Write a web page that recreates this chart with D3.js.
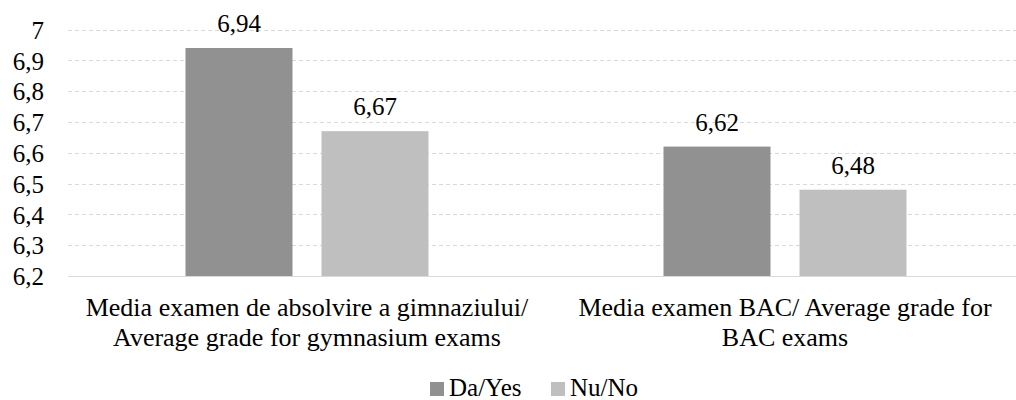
<!DOCTYPE html>
<html>
<head>
<meta charset="utf-8">
<script src="https://cdn.jsdelivr.net/npm/d3@7"></script>
<style>
  body { margin: 0; background: #fff; }
  .chart text { font-family: 'Liberation Serif', 'Times New Roman', serif; fill: #000; }
</style>
</head>
<body>
<div class="chart"></div>
<script>
var width = 1016, height = 400;

// data
var categories = [
  ["Media examen de absolvire a gimnaziului/", "Average grade for gymnasium exams"],
  ["Media examen BAC/ Average grade for", "BAC exams"]
];
var seriesNames = ["Da/Yes", "Nu/No"];
var seriesColors = ["#919191", "#bfbfbf"];
var daYes = [6.94, 6.62];
var nuNo = [6.67, 6.48];
var yTicks = [6.2, 6.3, 6.4, 6.5, 6.6, 6.7, 6.8, 6.9, 7];

var series = [daYes, nuNo];
var margin = { left: 68, right: -8, top: 29.5, bottom: 124 };
var fs = 25;

var svg = d3.select('.chart')
  .append('svg')
  .attr('width', width)
  .attr('height', height);

var x = d3.scaleBand()
  .domain(d3.range(categories.length))
  .range([margin.left, width - margin.right]);

var y = d3.scaleLinear()
  .domain([6.2, 7])
  .range([height - margin.bottom, margin.top]);

var barW = 107, gap = 29;
function barX(ci, si) {
  var c = x(ci) + x.bandwidth() / 2;
  var total = barW * 2 + gap;
  return c - total / 2 + si * (barW + gap);
}

// gridlines
svg.append('g')
  .selectAll('line')
  .data(yTicks.slice(1))
  .enter().append('line')
  .attr('x1', margin.left)
  .attr('x2', width - margin.right)
  .attr('y1', function(d) { return Math.round(y(d)) + 0.5; })
  .attr('y2', function(d) { return Math.round(y(d)) + 0.5; })
  .attr('stroke', '#d9d9d9')
  .attr('stroke-width', 1)
  .attr('stroke-dasharray', '4,3');

// y axis labels
var yAxis = d3.axisLeft(y)
  .tickValues(yTicks)
  .tickSize(0)
  .tickPadding(0)
  .tickFormat(function(d) { return d3.format('.1f')(d).replace('.0', '').replace('.', ','); });

var ya = svg.append('g')
  .attr('transform', 'translate(44,0)')
  .call(yAxis)
  .attr('font-family', null)
  .attr('font-size', null);
ya.select('.domain').remove();
ya.selectAll('text')
  .attr('fill', '#000')
  .attr('dy', '0.35em')
  .style('font-size', fs + 'px');

// bars
series.forEach(function(vals, si) {
  svg.append('g')
    .selectAll('rect')
    .data(vals)
    .enter().append('rect')
    .attr('x', function(d, i) { return barX(i, si); })
    .attr('y', function(d) { return y(d); })
    .attr('width', barW)
    .attr('height', function(d) { return y(6.2) - y(d); })
    .attr('fill', seriesColors[si]);

  svg.append('g')
    .selectAll('text')
    .data(vals)
    .enter().append('text')
    .attr('x', function(d, i) { return barX(i, si) + barW / 2; })
    .attr('y', function(d) { return y(d) - 16; })
    .attr('text-anchor', 'middle')
    .style('font-size', fs + 'px')
    .text(function(d) { return d3.format('.2f')(d).replace('.', ','); });
});

// baseline
svg.append('line')
  .attr('x1', margin.left)
  .attr('x2', width - margin.right)
  .attr('y1', y(6.2) + 0.5)
  .attr('y2', y(6.2) + 0.5)
  .attr('stroke', '#d9d9d9')
  .attr('stroke-width', 1);

// category labels
var cat = svg.append('g')
  .selectAll('text')
  .data(categories)
  .enter().append('text')
  .attr('text-anchor', 'middle')
  .style('font-size', '26px');
cat.each(function(lines, i) {
  var t = d3.select(this);
  lines.forEach(function(l, k) {
    t.append('tspan')
      .attr('x', x(i) + x.bandwidth() / 2)
      .attr('y', 316 + k * 30)
      .text(l);
  });
});

// legend
var legendX = [430, 551];
var legend = svg.append('g')
  .selectAll('g')
  .data(seriesNames)
  .enter().append('g')
  .attr('transform', function(d, i) { return 'translate(' + legendX[i] + ',0)'; });
legend.append('rect')
  .attr('x', 0)
  .attr('y', 382)
  .attr('width', 14)
  .attr('height', 14)
  .attr('fill', function(d, i) { return seriesColors[i]; });
legend.append('text')
  .attr('x', 19)
  .attr('y', 396)
  .style('font-size', fs + 'px')
  .text(function(d) { return d; });
</script>
</body>
</html>
